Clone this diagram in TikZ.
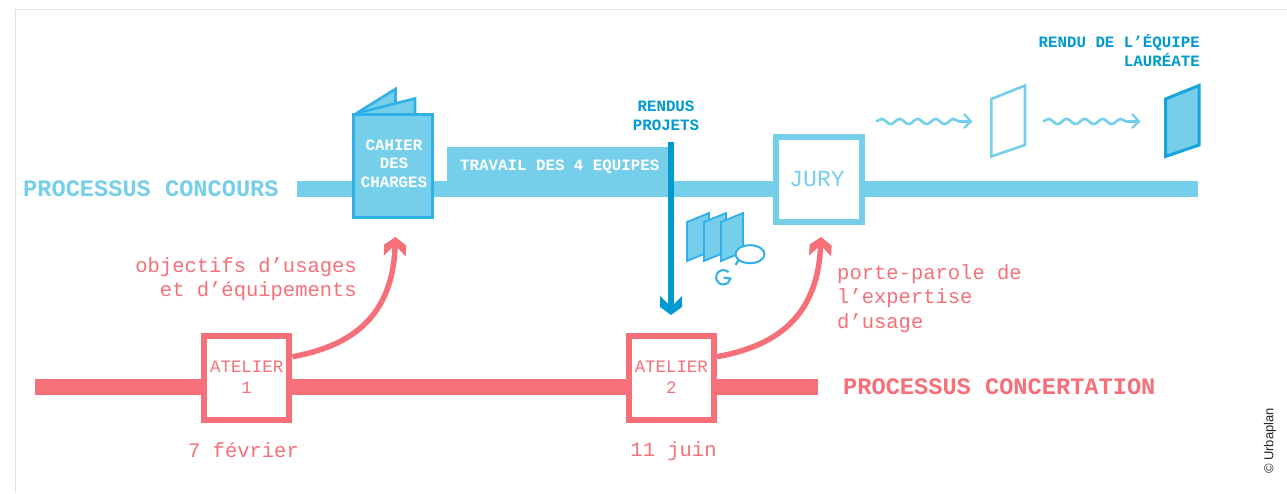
\documentclass[tikz,border=0pt]{standalone}
\usepackage{fontspec}
\setmainfont{Liberation Mono}
\newfontfamily\credit{Liberation Sans}
\usetikzlibrary{arrows.meta,decorations.pathmorphing}
\definecolor{sky}{HTML}{75CFEB}
\definecolor{edgeblue}{HTML}{2FB0E6}
\definecolor{deep}{HTML}{0099D0}
\definecolor{coral}{HTML}{F57078}
\pgfdeclarearrow{
 name=Chev,
 setup code={\pgfarrowssettipend{0pt}\pgfarrowssetlineend{-10pt}\pgfarrowssetvisualbackend{-19pt}\pgfarrowssetbackend{-19pt}},
 drawing code={
  \pgfpathmoveto{\pgfqpoint{0pt}{0pt}}
  \pgfpathlineto{\pgfqpoint{-8pt}{11pt}}
  \pgfpathlineto{\pgfqpoint{-19pt}{11pt}}
  \pgfpathlineto{\pgfqpoint{-11pt}{3pt}}
  \pgfpathlineto{\pgfqpoint{-11pt}{-3pt}}
  \pgfpathlineto{\pgfqpoint{-19pt}{-11pt}}
  \pgfpathlineto{\pgfqpoint{-8pt}{-11pt}}
  \pgfpathclose\pgfusepathqfill},
 defaults={}
}
\tikzset{
 x=1pt,y=-1pt,
 skybar/.style={fill=sky,draw=none},
 coralbar/.style={fill=coral,draw=none},
 sheet/.style={draw=edgeblue,fill=sky,line width=2.6pt,line join=miter},
 minisheet/.style={draw=edgeblue,fill=sky,line width=1.8pt},
 headtitle/.style={font=\bfseries\fontsize{23.65}{26}\selectfont,anchor=west,inner sep=0pt},
 smallbold/.style={font=\bfseries\fontsize{15.8}{18.6}\selectfont,align=center,inner sep=0pt},
 coraltext/.style={text=coral,font=\fontsize{20.5}{24.5}\selectfont,inner sep=0pt},
 atelierbox/.style={draw=coral,fill=white,line width=6pt,minimum width=85.5pt,minimum height=84pt,inner sep=0pt,align=center,text=coral,font=\fontsize{17.4}{21}\selectfont},
 jurybox/.style={draw=sky,fill=white,line width=6pt,minimum width=86pt,minimum height=85pt,inner sep=0pt,text=sky,font=\fontsize{23}{24}\selectfont},
 bigcurve/.style={draw=coral,line width=5.5pt,-{Chev}},
 wavy/.style={draw=sky,line width=2.6pt,decorate,decoration={snake,amplitude=2.6pt,segment length=18pt,post length=6pt}},
}
\begin{document}
\begin{tikzpicture}
\useasboundingbox (0,0) rectangle (1287,493);
\fill[white] (0,0) rectangle (1287,493);
\draw[black!12,line width=1pt] (15,493) -- (15,9.5) -- (1287,9.5);
% bars
\fill[skybar] (297,181) rectangle (1198,197);
\fill[skybar] (447,147) rectangle (669,197);
\fill[coralbar] (35,379) rectangle (818,395);
% titles
\node[headtitle,text=sky] (t1) at (23,188.5) {PROCESSUS CONCOURS};
\node[headtitle,text=coral] (t2) at (843,387) {PROCESSUS CONCERTATION};
% booklet
\path[sheet] (356,113.5) -- (395.5,89) -- (395.5,114);
\path[sheet] (356,113.5) -- (415,98.5) -- (415,114);
\node[sheet,line width=2.8pt,minimum width=79.2pt,minimum height=103.6pt,inner sep=0pt] (cdc) at (393,166) {};
\node[smallbold,text=white] (cdct) at (394,163.5) {CAHIER\\DES\\CHARGES};
\node[text=white,font=\bfseries\fontsize{15.8}{16}\selectfont,anchor=west,inner sep=0pt] (tr) at (460,166.5) {TRAVAIL DES 4 EQUIPES};
% rendus
\node[smallbold,text=deep] (rp) at (666,116) {RENDUS\\PROJETS};
\coordinate (a0) at (671,141.5);
\coordinate (a1) at (671,315);
\draw[draw=deep,line width=6pt,-{Chev}] (a0) -- (a1);
% small sheets
\path[minisheet] (687,222) -- (709,213) -- (709,252) -- (687,261) -- cycle;
\path[minisheet] (704,222) -- (726,213) -- (726,252) -- (704,261) -- cycle;
\path[minisheet] (721,222) -- (743,213) -- (743,252) -- (721,261) -- cycle;
\draw[edgeblue,line width=2.2pt] (739,259.5) -- (735.5,265);
\draw[edgeblue,fill=white,line width=2pt] (750,254.2) ellipse (14.5 and 9);
\draw[edgeblue,line width=2pt] (728.4,272.2) arc (-45:-350:7.2) -- (723.5,277.5);
% jury
\node[jurybox] (jury) at (819,179.5) {\hspace*{-4pt}JURY};
% deliverables
\path[draw=sky,fill=white,line width=2.6pt] (991.3,99) -- (1025,85.5) -- (1025,145) -- (991.3,156.5) -- cycle;
\path[draw=edgeblue!50!deep,fill=sky,line width=3pt] (1165.5,99) -- (1199,85.5) -- (1199,145) -- (1165.5,156.5) -- cycle;
\coordinate (w0) at (876,121.5); \coordinate (w1) at (971,121.5);
\coordinate (w2) at (1043,121.5); \coordinate (w3) at (1139,121.5);
\draw[wavy] (w0) -- (w1);
\draw[wavy] (w2) -- (w3);
\draw[sky,line width=2.2pt] (964,114) -- (971,121.5) -- (964,128);
\draw[sky,line width=2.2pt] (1132,114) -- (1139,121.5) -- (1132,128);
\node[smallbold,text=deep,align=right,anchor=north east] (re) at (1200,34.5) {RENDU DE L’ÉQUIPE\\LAURÉATE};
% ateliers
\node[atelierbox] (at1) at (246.7,377.7) {ATELIER\\1};
\node[atelierbox] (at2) at (671.3,377.7) {ATELIER\\2};
\draw[bigcurve] (at1.east) ++(0,-21) .. controls (345,347) and (392,322) .. (395.5,237);
\draw[bigcurve] (at2.east) ++(0,-21) .. controls (770,347) and (817,322) .. (821,237);
% labels
\node[coraltext,anchor=north east,align=right] (l1) at (357,257) {objectifs d’usages\\et d’équipements};
\node[coraltext,anchor=north west,align=left] (l2) at (837,264) {porte-parole de\\l’expertise\\d’usage};
\node[coraltext] (d1) at (243.5,450) {7 février};
\node[coraltext] (d2) at (673.5,451) {11 juin};
\node[rotate=90,font=\credit\fontsize{13}{14}\selectfont,text=black!85,inner sep=0pt] (cr) at (1270,441) {© Urbaplan};
\end{tikzpicture}
\end{document}
